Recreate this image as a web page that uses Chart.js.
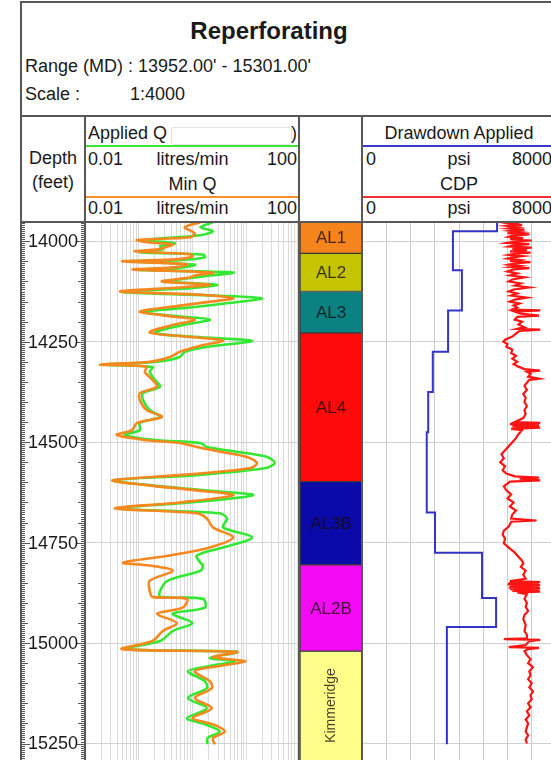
<!DOCTYPE html>
<html>
<head>
<meta charset="utf-8">
<script src="https://cdn.jsdelivr.net/npm/chart.js@4.4.1/dist/chart.umd.min.js"></script>
<style>
  body { margin:0; width:551px; height:760px; overflow:hidden; background:#fff;
         font-family:"Liberation Sans", Arial, sans-serif; color:#1a1a1a; position:relative; }
  canvas { position:absolute; }
  .ln { position:absolute; background:#585858; }
  .t { position:absolute; font-size:18px; line-height:18px; white-space:nowrap; }
  .c { text-align:center; }
  .r { text-align:right; }
</style>
</head>
<body>

<div class="t c" style="left:0;width:538px;top:19px;font-size:24px;line-height:24px;font-weight:bold;">Reperforating</div>
<div class="t" style="left:25px;top:57px;">Range (MD) : 13952.00' - 15301.00'</div>
<div class="t" style="left:25px;top:85px;">Scale :</div>
<div class="t" style="left:130px;top:85px;">1:4000</div>

<!-- depth header -->
<div class="t c" style="left:21px;width:64px;top:149px;">Depth</div>
<div class="t c" style="left:21px;width:64px;top:173px;">(feet)</div>

<!-- left track header -->
<div class="t" style="left:88px;top:124px;">Applied Q</div>
<div style="position:absolute;left:171px;top:127px;width:119px;height:16px;border:1px solid #e2e2e2;border-radius:3px;background:#fff;"></div>
<div class="t" style="left:291px;top:124px;">)</div>
<div class="ln" style="left:86px;top:145px;width:212px;height:2px;background:#39e639;"></div>
<div class="t" style="left:88px;top:150px;">0.01</div>
<div class="t c" style="left:85px;width:215px;top:150px;">litres/min</div>
<div class="t r" style="left:85px;width:212px;top:150px;">100</div>
<div class="t c" style="left:85px;width:215px;top:175px;">Min Q</div>
<div class="ln" style="left:86px;top:196px;width:212px;height:2px;background:#f7912a;"></div>
<div class="t" style="left:88px;top:199px;">0.01</div>
<div class="t c" style="left:85px;width:215px;top:199px;">litres/min</div>
<div class="t r" style="left:85px;width:212px;top:199px;">100</div>

<!-- right track header -->
<div class="t c" style="left:362px;width:194px;top:124px;">Drawdown Applied</div>
<div class="ln" style="left:363px;top:145px;width:193px;height:2px;background:#3a3ad0;"></div>
<div class="t" style="left:366px;top:150px;">0</div>
<div class="t c" style="left:362px;width:194px;top:150px;">psi</div>
<div class="t r" style="left:362px;width:190px;top:150px;">8000</div>
<div class="t c" style="left:362px;width:194px;top:175px;">CDP</div>
<div class="ln" style="left:363px;top:196px;width:193px;height:2px;background:#f03030;"></div>
<div class="t" style="left:366px;top:199px;">0</div>
<div class="t c" style="left:362px;width:194px;top:199px;">psi</div>
<div class="t r" style="left:362px;width:190px;top:199px;">8000</div>

<canvas id="depthCol" width="62" height="542" style="left:22px;top:222px;"></canvas>
<canvas id="qTrack" width="215" height="542" style="left:85px;top:222px;"></canvas>
<canvas id="zoneTrack" width="62" height="542" style="left:300px;top:222px;"></canvas>
<canvas id="psiTrack" width="194" height="542" style="left:362px;top:222px;"></canvas>

<!-- frame -->
<div class="ln" style="left:20px;top:1px;width:540px;height:2px;"></div>
<div class="ln" style="left:20px;top:1px;width:2px;height:770px;"></div>
<div class="ln" style="left:20px;top:115px;width:540px;height:2px;"></div>
<div class="ln" style="left:20px;top:221px;width:540px;height:2px;"></div>
<div class="ln" style="left:84px;top:116px;width:2px;height:660px;"></div>
<div class="ln" style="left:298px;top:116px;width:2px;height:660px;"></div>
<div class="ln" style="left:361px;top:116px;width:2px;height:660px;"></div>

<script>
const DEPTH_TOP = 13952;
const DEPTH_BASE = 15301;

const depthLabels = [14000, 14250, 14500, 14750, 15000, 15250];
const logGrid = [0.01,0.02,0.03,0.04,0.05,0.06,0.07,0.08,0.09,
                 0.1,0.2,0.3,0.4,0.5,0.6,0.7,0.8,0.9,
                 1,2,3,4,5,6,7,8,9,
                 10,20,30,40,50,60,70,80,90,100];
const psiGrid = [0,1000,2000,3000,4000,5000,6000,7000,8000];

// zones: name, top depth, colour
const zoneNames = ['AL1', 'AL2', 'AL3', 'AL4', 'AL3B', 'AL2B', 'Kimmeridge'];
const zoneTops = [13952, 14030, 14125, 14228, 14598, 14805, 15020, 15301];
const zoneColors = ['#f5841c', '#c4c400', '#0a8282', '#ff0a0a', '#0a0aa8', '#f50af5', '#ffff8a'];

// [depth, litres/min]
const minQ = [
  [13953,1.4],[13965,0.72],[13980,1.1],[13990,0.9],[13997,0.093],[14003,0.16],[14008,0.43],[14015,0.31],
  [14020,0.23],[14025,0.085],[14032,0.9],[14038,1.0],[14045,0.47],[14050,0.049],[14057,0.79],[14065,0.47],
  [14070,0.078],[14078,2.4],[14085,1.1],[14090,0.9],[14100,0.27],[14108,2.1],[14115,0.58],[14125,0.045],
  [14133,1.4],[14142,5.7],[14152,1.7],[14162,0.47],[14175,0.105],[14185,0.31],[14195,1.1],[14210,0.38],
  [14227,0.16],[14237,0.72],[14247,3.7],[14260,1.4],[14275,0.58],[14288,0.38],[14300,0.16],[14307,0.019],
  [14312,0.14],[14325,0.13],[14345,0.18],[14362,0.22],[14378,0.105],[14395,0.105],[14420,0.14],[14437,0.27],
  [14452,0.093],[14470,0.075],[14482,0.039],[14495,0.14],[14502,0.58],[14512,1.2],[14525,3.7],[14537,10.3],
  [14552,15.8],[14565,11.6],[14582,0.58],[14595,0.033],[14607,0.14],[14620,1.2],[14632,5.7],[14650,0.58],
  [14665,0.036],[14677,1.2],[14690,1.85],[14712,2.4],[14737,5.7],[14762,2.1],[14782,0.38],[14800,0.051],
  [14807,0.16],[14820,0.43],[14845,0.16],[14870,0.16],[14885,0.18],[14890,0.79],[14912,0.66],[14927,0.22],
  [14950,0.51],[14970,0.28],[14995,0.18],[15015,0.049],[15022,6.7],[15035,2.4],[15045,9.5],[15057,3.2],
  [15070,1.1],[15095,2.1],[15112,2.3],[15137,1.1],[15162,2.3],[15187,1.0],[15202,2.4],[15220,4.0],
  [15237,2.4],[15252,2.6]
];
const appliedQ = [
  [13953,2.4],[13965,1.4],[13975,2.4],[13985,1.4],[13997,0.13],[14005,0.47],[14012,0.25],[14020,0.28],
  [14027,0.105],[14033,1.57],[14040,1.7],[14047,0.58],[14050,0.061],[14058,1.1],[14066,0.58],[14071,0.089],
  [14078,5.7],[14088,1.4],[14100,0.38],[14108,2.86],[14117,0.9],[14126,0.049],[14135,2.6],[14142,19.6],
  [14155,4.0],[14165,0.9],[14176,0.12],[14185,0.38],[14195,2.1],[14210,0.58],[14228,0.2],[14238,1.1],
  [14248,12.8],[14262,2.1],[14275,0.72],[14288,0.58],[14300,0.22],[14307,0.022],[14313,0.18],[14325,0.16],
  [14345,0.2],[14362,0.25],[14378,0.12],[14395,0.12],[14420,0.16],[14437,0.25],[14452,0.105],[14470,0.105],
  [14482,0.055],[14495,0.2],[14502,1.4],[14512,1.85],[14525,7.7],[14537,24.5],[14552,34],[14565,22],
  [14582,1.2],[14595,0.033],[14607,0.16],[14620,1.7],[14632,13.4],[14650,0.9],[14665,0.041],[14677,3.2],
  [14690,4.4],[14712,3.7],[14737,12.8],[14762,3.7],[14782,1.2],[14800,1.4],[14807,1.57],[14820,1.4],
  [14845,0.34],[14870,0.25],[14885,0.25],[14890,1.57],[14912,1.7],[14927,0.43],[14950,1.0],[14970,0.43],
  [14995,0.25],[15015,0.055],[15022,6.7],[15037,2.1],[15045,6.2],[15057,2.1],[15070,0.82],[15095,1.7],
  [15112,1.85],[15137,0.82],[15162,1.85],[15187,0.79],[15202,1.7],[15220,3.2],[15237,1.9],[15252,1.9]
];

// [top depth of step, psi]
const drawdown = [
  [13952,5570],[13975,3750],[14072,4120],[14172,3550],[14275,2920],[14375,2730],[14475,2670],
  [14675,3010],[14775,4950],[14888,5530],[14960,3500],[15252,3500]
];

// [depth, psi]
const cdp = [
  [13953,6500],[13956,6100],[13959,6600],[13962,6000],[13965,6400],[13968,6050],[13971,6700],[13974,6150],
  [13977,6550],[13980,6000],[13983,6900],[13986,6200],[13989,6050],[13992,6650],[13995,6100],[13998,7000],
  [14001,6300],[14004,6000],[14007,6900],[14010,6250],[14013,6050],[14016,7000],[14019,6200],[14022,6800],
  [14025,6100],[14028,6950],[14031,6300],[14034,6050],[14037,6600],[14040,6200],[14043,6000],[14046,6450],
  [14049,6100],[14052,6950],[14055,6300],[14058,6050],[14061,6500],[14064,6150],[14067,6900],[14070,6250],
  [14075,6000],[14080,6400],[14085,6100],[14090,6700],[14095,6200],[14100,6050],[14105,6550],[14110,6300],
  [14115,6900],[14120,6250],[14125,6050],[14130,6400],[14135,6150],[14140,6800],[14145,6300],[14150,6100],
  [14155,6500],[14160,6250],[14165,6400],[14170,6200],[14172,7350],[14175,6300],[14180,6550],[14185,7300],
  [14188,6400],[14195,6300],[14200,6600],[14207,6450],[14214,6700],[14218,6400],[14220,7350],[14223,6500],
  [14230,6350],[14237,6200],[14245,5900],[14250,5830],[14256,6000],[14262,5950],[14270,6200],[14278,6150],
  [14285,6350],[14292,6200],[14300,6400],[14306,6250],[14312,6450],[14318,6700],[14322,7350],[14325,6800],
  [14330,6950],[14337,6850],[14342,7300],[14345,6900],[14352,6800],[14360,6700],[14370,6800],[14380,6650],
  [14390,6750],[14400,6700],[14410,6800],[14420,6700],[14430,6750],[14440,6650],[14450,6300],[14452,7350],
  [14455,6100],[14458,7300],[14461,6200],[14464,7350],[14467,6150],[14470,6600],[14480,6450],[14490,6350],
  [14500,6200],[14510,6050],[14520,5900],[14530,5750],[14540,5850],[14550,5700],[14560,5900],[14570,5800],
  [14578,5950],[14585,6300],[14588,7300],[14591,6500],[14595,7350],[14598,6100],[14610,5850],[14620,5950],
  [14630,6150],[14640,6000],[14650,6250],[14660,6100],[14670,6350],[14680,6200],[14690,6150],[14695,7200],
  [14698,6150],[14710,6050],[14720,5850],[14730,5800],[14740,5900],[14752,5850],[14765,6100],[14775,6300],
  [14785,6450],[14795,6600],[14802,6650],[14810,6550],[14820,6750],[14830,6650],[14840,6750],[14846,6100],
  [14848,7350],[14850,6050],[14852,7300],[14854,6000],[14856,7350],[14858,6100],[14860,7300],[14862,6050],
  [14864,7350],[14866,6100],[14868,7300],[14870,6200],[14872,7350],[14874,6400],[14878,6800],[14890,6700],
  [14900,6800],[14910,6750],[14920,6850],[14930,6700],[14940,6650],[14955,6750],[14970,6700],[14980,6800],
  [14988,6800],[14990,5850],[14992,7350],[14995,6900],[15005,6750],[15010,6050],[15012,7300],[15015,6850],
  [15020,6700],[15030,6800],[15040,6950],[15050,6850],[15060,7050],[15070,6900],[15080,6950],[15090,6850],
  [15100,7000],[15110,6900],[15120,7050],[15130,6950],[15140,7000],[15150,6850],[15160,6950],[15170,6800],
  [15180,6900],[15190,6750],[15200,6850],[15210,6800],[15220,6750],[15230,6850],[15240,6750],[15250,6800]
];

const toPoints = rows => rows.map(r => ({ x: r[1], y: r[0] }));

function depthAxis(showGrid) {
  return {
    type: 'linear',
    min: DEPTH_TOP,
    max: DEPTH_BASE,
    reverse: true,
    display: showGrid,
    afterBuildTicks: ax => { ax.ticks = depthLabels.map(v => ({ value: v })); },
    ticks: { display: false },
    border: { display: false },
    grid: { color: '#d2d2d2', lineWidth: 1, drawTicks: false }
  };
}

const baseOptions = {
  responsive: false,
  maintainAspectRatio: false,
  animation: false,
  events: [],
  layout: { padding: 0 },
  plugins: { legend: { display: false }, tooltip: { enabled: false } }
};

// depth ruler column
const depthRuler = {
  id: 'depthRuler',
  afterDraw(chart) {
    const { ctx, chartArea: a } = chart;
    const y = chart.scales.y;
    ctx.save();
    ctx.strokeStyle = '#555';
    ctx.lineWidth = 1;
    ctx.beginPath();
    for (let d = 13955; d <= DEPTH_BASE; d += 5) {
      const py = Math.round(y.getPixelForValue(d)) + 0.5;
      const len = d % 50 === 0 ? 6 : 3;
      ctx.moveTo(a.left, py); ctx.lineTo(a.left + len, py);
      ctx.moveTo(a.right - len, py); ctx.lineTo(a.right, py);
    }
    ctx.stroke();
    ctx.font = '18px "Liberation Sans", Arial, sans-serif';
    ctx.textAlign = 'center';
    ctx.textBaseline = 'middle';
    depthLabels.forEach(v => {
      const py = y.getPixelForValue(v);
      ctx.fillStyle = '#fff';
      ctx.fillRect(a.left + 7, py - 8, a.right - a.left - 14, 16);
      ctx.strokeStyle = '#555';
      ctx.beginPath();
      ctx.moveTo(a.left, Math.round(py) + 0.5); ctx.lineTo(a.left + 8, Math.round(py) + 0.5);
      ctx.moveTo(a.right - 8, Math.round(py) + 0.5); ctx.lineTo(a.right, Math.round(py) + 0.5);
      ctx.stroke();
      ctx.fillStyle = '#1a1a1a';
      ctx.fillText(String(v), (a.left + a.right) / 2, py + 1);
    });
    ctx.restore();
  }
};

new Chart(document.getElementById('depthCol'), {
  type: 'scatter',
  data: { datasets: [] },
  options: Object.assign({}, baseOptions, {
    scales: {
      x: { type: 'linear', min: 0, max: 1, display: false },
      y: depthAxis(false)
    }
  }),
  plugins: [depthRuler]
});

// flow rate track (log scale)
new Chart(document.getElementById('qTrack'), {
  type: 'scatter',
  data: {
    datasets: [
      { label: 'Min Q', data: toPoints(minQ), showLine: true, borderColor: '#f7871f',
        borderWidth: 2.6, pointRadius: 0, tension: 0.3 },
      { label: 'Applied Q', data: toPoints(appliedQ), showLine: true, borderColor: '#33e833',
        borderWidth: 2.6, pointRadius: 0, tension: 0.3 }
    ]
  },
  options: Object.assign({}, baseOptions, {
    scales: {
      x: {
        type: 'logarithmic', min: 0.01, max: 100,
        afterBuildTicks: ax => { ax.ticks = logGrid.map(v => ({ value: v })); },
        ticks: { display: false },
        border: { display: false },
        grid: { color: '#dadada', lineWidth: 1, drawTicks: false }
      },
      y: depthAxis(true)
    }
  })
});

// zone column
const zoneLabels = {
  id: 'zoneLabels',
  afterDatasetsDraw(chart) {
    const ctx = chart.ctx;
    ctx.save();
    ctx.fillStyle = 'rgba(20,10,10,0.78)';
    ctx.textAlign = 'center';
    ctx.textBaseline = 'middle';
    zoneNames.forEach((name, i) => {
      const bar = chart.getDatasetMeta(i).data[0];
      const top = Math.min(bar.y, bar.base);
      const bottom = Math.min(Math.max(bar.y, bar.base), 760 - 222);
      const cy = (top + bottom) / 2;
      if (name === 'Kimmeridge') {
        ctx.save();
        ctx.translate(bar.x, cy);
        ctx.rotate(-Math.PI / 2);
        ctx.font = '14px "Liberation Sans", Arial, sans-serif';
        ctx.fillText(name, 0, 0);
        ctx.restore();
      } else {
        ctx.font = '17px "Liberation Sans", Arial, sans-serif';
        ctx.fillText(name, bar.x, cy + 1);
      }
    });
    ctx.restore();
  }
};

new Chart(document.getElementById('zoneTrack'), {
  type: 'bar',
  data: {
    labels: ['zone'],
    datasets: zoneNames.map((name, i) => ({
      label: name,
      data: [[zoneTops[i], zoneTops[i + 1]]],
      backgroundColor: zoneColors[i],
      borderColor: '#3a3a3a',
      borderWidth: 1,
      borderSkipped: false,
      barPercentage: 1,
      categoryPercentage: 1,
      grouped: false
    }))
  },
  options: Object.assign({}, baseOptions, {
    scales: {
      x: { display: false },
      y: depthAxis(false)
    }
  }),
  plugins: [zoneLabels]
});

// pressure track
new Chart(document.getElementById('psiTrack'), {
  type: 'scatter',
  data: {
    datasets: [
      { label: 'Drawdown Applied', data: toPoints(drawdown), showLine: true, stepped: 'after',
        borderColor: '#3434c8', borderWidth: 2, pointRadius: 0 },
      { label: 'CDP', data: toPoints(cdp), showLine: true, borderColor: '#ff1414',
        borderWidth: 2.2, pointRadius: 0, tension: 0 }
    ]
  },
  options: Object.assign({}, baseOptions, {
    scales: {
      x: {
        type: 'linear', min: 0, max: 8000,
        afterBuildTicks: ax => { ax.ticks = psiGrid.map(v => ({ value: v })); },
        ticks: { display: false },
        border: { display: false },
        grid: { color: '#cccccc', lineWidth: 1, drawTicks: false }
      },
      y: depthAxis(true)
    }
  })
});
</script>
</body>
</html>
